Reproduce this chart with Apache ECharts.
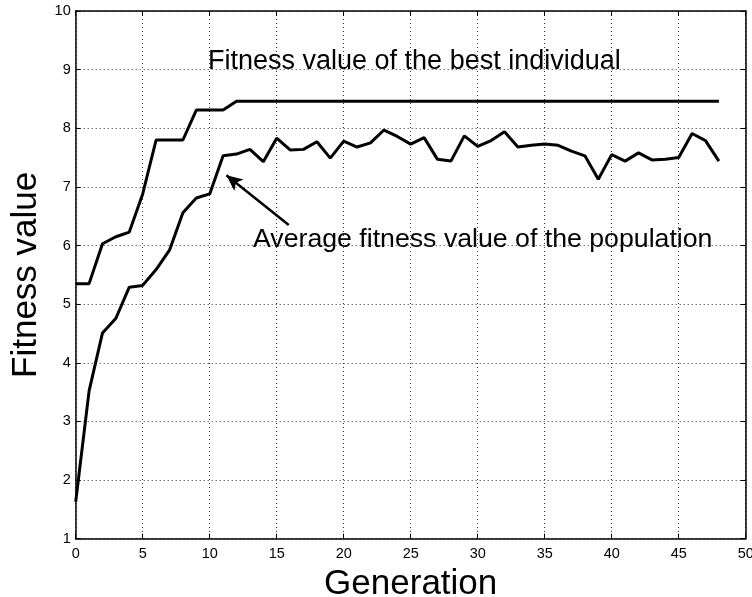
<!DOCTYPE html>
<html>
<head>
<meta charset="utf-8">
<script src="https://cdn.jsdelivr.net/npm/echarts@6/dist/echarts.min.js"></script>
<style>
  html, body { margin: 0; padding: 0; background: #fff; }
  #chart { width: 752px; height: 597px; }
</style>
</head>
<body>
<div id="chart"></div>
<script>
// Generations 0..48
const generations = [0,1,2,3,4,5,6,7,8,9,10,11,12,13,14,15,16,17,18,19,20,21,22,23,24,25,26,27,28,29,30,31,32,33,34,35,36,37,38,39,40,41,42,43,44,45,46,47,48];

// Fitness of the best individual in each generation
const bestFitness = [5.35,5.35,6.03,6.15,6.23,6.88,7.80,7.80,7.80,8.31,8.31,8.31,8.46,8.46,8.46,8.46,8.46,8.46,8.46,8.46,8.46,8.46,8.46,8.46,8.46,8.46,8.46,8.46,8.46,8.46,8.46,8.46,8.46,8.46,8.46,8.46,8.46,8.46,8.46,8.46,8.46,8.46,8.46,8.46,8.46,8.46,8.46,8.46,8.46];

// Average fitness of the population in each generation
const avgFitness = [1.63,3.52,4.51,4.76,5.29,5.32,5.59,5.92,6.56,6.81,6.88,7.53,7.56,7.64,7.43,7.83,7.63,7.64,7.77,7.49,7.78,7.68,7.75,7.97,7.86,7.73,7.84,7.47,7.44,7.87,7.69,7.79,7.94,7.68,7.71,7.73,7.71,7.61,7.53,7.13,7.55,7.44,7.58,7.46,7.47,7.50,7.91,7.79,7.44];

const xTicks = [0,5,10,15,20,25,30,35,40,45,50];
const yTicks = [1,2,3,4,5,6,7,8,9,10];

const FONT = '"Liberation Sans", Arial, Helvetica, sans-serif';

const pairs = (ys) => generations.map((g, i) => [g, ys[i]]);

const chart = echarts.init(document.getElementById('chart'), null, { renderer: 'canvas' });

const gridLine = { show: true, lineStyle: { color: '#333', width: 1, type: [1, 3] } };
const frameLine = { show: true, onZero: false, lineStyle: { color: '#000', width: 1.5 } };
const innerTick = { show: true, inside: true, length: 5, lineStyle: { color: '#000', width: 1 } };

chart.setOption({
  animation: false,
  backgroundColor: '#fff',
  grid: { left: 75.7, right: 6.3, top: 11, bottom: 58.3, containLabel: false, outerBoundsMode: 'none' },
  xAxis: [
    {
      type: 'value', min: xTicks[0], max: xTicks[xTicks.length - 1], interval: 5,
      axisLine: frameLine, axisTick: innerTick, splitLine: gridLine,
      axisLabel: { color: '#000', fontFamily: FONT, fontSize: 14.5, margin: 8 },
      name: 'Generation', nameLocation: 'middle', nameGap: 24,
      nameTextStyle: { color: '#000', fontFamily: FONT, fontSize: 35 }
    },
    {
      type: 'value', position: 'top', min: xTicks[0], max: xTicks[xTicks.length - 1], interval: 5,
      axisLine: frameLine, axisTick: innerTick, splitLine: { show: false },
      axisLabel: { show: false }
    }
  ],
  yAxis: [
    {
      type: 'value', min: yTicks[0], max: yTicks[yTicks.length - 1], interval: 1,
      axisLine: frameLine, axisTick: innerTick, splitLine: gridLine,
      axisLabel: { color: '#000', fontFamily: FONT, fontSize: 14.5, margin: 5 },
      name: 'Fitness value', nameLocation: 'middle', nameGap: 27, nameRotate: 90,
      nameTextStyle: { color: '#000', fontFamily: FONT, fontSize: 35 }
    },
    {
      type: 'value', position: 'right', min: yTicks[0], max: yTicks[yTicks.length - 1], interval: 1,
      axisLine: frameLine, axisTick: innerTick, splitLine: { show: false },
      axisLabel: { show: false }
    }
  ],
  series: [
    {
      name: 'Best', type: 'line', data: pairs(bestFitness),
      showSymbol: false, symbol: 'none',
      lineStyle: { color: '#000', width: 3 }, z: 3
    },
    {
      name: 'Average', type: 'line', data: pairs(avgFitness),
      showSymbol: false, symbol: 'none',
      lineStyle: { color: '#000', width: 3 }, z: 3,
      markLine: {
        silent: true,
        symbol: ['none', 'arrow'],
        symbolSize: [11, 16],
        label: { show: false },
        lineStyle: { color: '#000', width: 2.5, type: 'solid' },
        data: [[{ coord: [15.9, 6.35] }, { coord: [11.25, 7.2] }]]
      }
    }
  ],
  graphic: [
    {
      type: 'text', left: 208, top: 48,
      style: { text: 'Fitness value of the best individual', fill: '#000', font: '27px ' + FONT }
    },
    {
      type: 'text', left: 253, top: 226,
      style: { text: 'Average fitness value of the population', fill: '#000', font: '26.7px ' + FONT }
    }
  ]
});
</script>
</body>
</html>
